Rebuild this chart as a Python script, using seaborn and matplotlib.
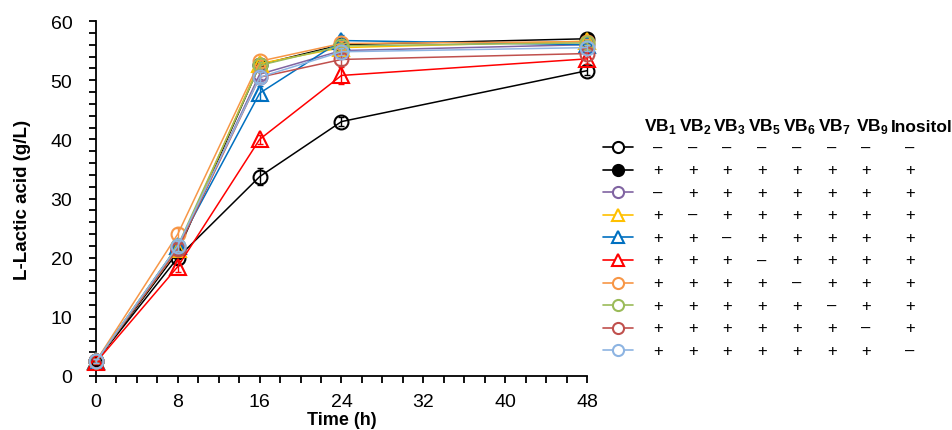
import matplotlib
matplotlib.use('Agg')
import matplotlib.pyplot as plt
import seaborn as sns
import numpy as np
import pandas as pd
from matplotlib.ticker import MultipleLocator

# 数据
time_h = [0, 8, 16, 24, 48]

ctrl = [2.5, 20.0, 33.7, 43.0, 51.6]
all_plus = [2.5, 21.0, 52.6, 56.0, 57.0]
no_vb1 = [2.5, 21.5, 51.0, 55.0, 56.0]
no_vb2 = [2.5, 21.5, 52.8, 55.5, 56.6]
no_vb3 = [2.5, 22.0, 47.8, 56.7, 56.0]
no_vb5 = [2.3, 18.5, 40.0, 50.8, 53.6]
no_vb6 = [2.5, 24.0, 53.2, 56.2, 56.5]
no_vb7 = [2.5, 22.0, 52.5, 55.8, 56.3]
no_vb9 = [2.5, 21.5, 50.5, 53.5, 54.5]
no_ino = [2.5, 22.0, 50.5, 54.8, 55.5]

ctrl_err = [0.3, 1.0, 1.5, 0.8, 0.8]
all_plus_err = [0.3, 0.8, 0.6, 0.5, 0.4]
no_vb1_err = [0.3, 0.8, 0.8, 0.5, 0.5]
no_vb2_err = [0.3, 0.8, 0.6, 0.5, 0.5]
no_vb3_err = [0.3, 1.2, 1.2, 1.0, 0.5]
no_vb5_err = [0.3, 1.0, 0.8, 1.5, 0.8]
no_vb6_err = [0.3, 1.0, 0.6, 0.5, 0.5]
no_vb7_err = [0.3, 0.8, 0.6, 0.5, 0.5]
no_vb9_err = [0.3, 0.8, 0.8, 1.0, 0.5]
no_ino_err = [0.3, 0.8, 0.8, 0.6, 0.5]

series = [ctrl, all_plus, no_vb1, no_vb2, no_vb3, no_vb5, no_vb6, no_vb7, no_vb9, no_ino]
errors = [ctrl_err, all_plus_err, no_vb1_err, no_vb2_err, no_vb3_err,
          no_vb5_err, no_vb6_err, no_vb7_err, no_vb9_err, no_ino_err]
colors = ['#000000', '#000000', '#8064A2', '#FFC000', '#0070C0',
          '#FF0000', '#F79646', '#9BBB59', '#C0504D', '#8DB4E2']
markers = ['o', 'o', 'o', '^', '^', '^', 'o', 'o', 'o', 'o']
filled = [False, True, False, False, False, False, False, False, False, False]

headers = [r'VB$_\mathbf{1}$', r'VB$_\mathbf{2}$', r'VB$_\mathbf{3}$', r'VB$_\mathbf{5}$',
           r'VB$_\mathbf{6}$', r'VB$_\mathbf{7}$', r'VB$_\mathbf{9}$', 'Inositol']
signs = [
    ['–', '–', '–', '–', '–', '–', '–', '–'],
    ['+', '+', '+', '+', '+', '+', '+', '+'],
    ['–', '+', '+', '+', '+', '+', '+', '+'],
    ['+', '–', '+', '+', '+', '+', '+', '+'],
    ['+', '+', '–', '+', '+', '+', '+', '+'],
    ['+', '+', '+', '–', '+', '+', '+', '+'],
    ['+', '+', '+', '+', '–', '+', '+', '+'],
    ['+', '+', '+', '+', '+', '–', '+', '+'],
    ['+', '+', '+', '+', '+', '+', '–', '+'],
    ['+', '+', '+', '+', '+', '+', '+', '–'],
]

sns.set_style('ticks')
plt.rcParams['font.family'] = ['Liberation Sans', 'DejaVu Sans']
plt.rcParams['mathtext.fontset'] = 'custom'
plt.rcParams['mathtext.rm'] = 'Liberation Sans'
plt.rcParams['mathtext.bf'] = 'Liberation Sans:bold'
for k in ['text.color', 'axes.labelcolor', 'xtick.color', 'ytick.color', 'axes.edgecolor']:
    plt.rcParams[k] = 'black'

fig = plt.figure(figsize=(9.53, 4.31), dpi=100)
ax = fig.add_axes([96 / 953, 1 - 377 / 431, 491 / 953, 355 / 431])

for i, (vals, err) in enumerate(zip(series, errors)):
    df = pd.DataFrame({'time': time_h, 'val': vals})
    ms = 11 if markers[i] == '^' else 10
    sns.lineplot(data=df, x='time', y='val', ax=ax, color=colors[i], lw=1.1,
                 marker=markers[i], markersize=ms, markeredgewidth=1.5,
                 markeredgecolor=colors[i],
                 markerfacecolor=colors[i] if filled[i] else 'none',
                 clip_on=False, zorder=3 + i)
    ax.errorbar(time_h, vals, yerr=err, fmt='none', ecolor=colors[i],
                elinewidth=1, capsize=2.5, clip_on=False, zorder=3 + i)

ax.set_xlim(0, 48)
ax.set_ylim(0, 60)
ax.xaxis.set_major_locator(MultipleLocator(8))
ax.xaxis.set_minor_locator(MultipleLocator(2))
ax.yaxis.set_major_locator(MultipleLocator(10))
ax.yaxis.set_minor_locator(MultipleLocator(2))
ax.tick_params(which='both', direction='out', length=5, width=1.3, labelsize=14)
ax.tick_params(axis='x', pad=7)
ax.tick_params(axis='y', pad=12)
for s in ['left', 'bottom']:
    ax.spines[s].set_linewidth(1.3)
sns.despine(ax=ax)
ax.set_xlabel('Time (h)', fontsize=13, fontweight='bold', labelpad=1)
ax.set_ylabel('L-Lactic acid (g/L)', fontsize=13.5, fontweight='bold', labelpad=14)

# 右侧表格式图例
tab = fig.add_axes([600 / 953, 1 - 365 / 431, 353 / 953, 250 / 431])
tab.set_xlim(0, 353)
tab.set_ylim(250, 0)
tab.axis('off')
sign_x = [58, 93, 127, 162, 197, 232, 266, 310]
head_x = [60, 95, 129, 164, 199, 234, 272, 322]
for j, h in enumerate(headers):
    tab.text(head_x[j], 12, h, ha='center', va='center', fontsize=12.5, fontweight='bold')
for i, row in enumerate(signs):
    y = 33 + 22.6 * i
    ms = 8.5 if markers[i] == '^' else 8
    tab.plot([3, 33], [y, y], color=colors[i], lw=1.2)
    tab.plot([18], [y], marker=markers[i], markersize=ms, markeredgewidth=1.5,
             color=colors[i], markerfacecolor=colors[i] if filled[i] else 'white')
    for j, s in enumerate(row):
        tab.text(sign_x[j], y, s, ha='center', va='center', fontsize=12)

fig.savefig('out.png', dpi=100)
plt.close()
